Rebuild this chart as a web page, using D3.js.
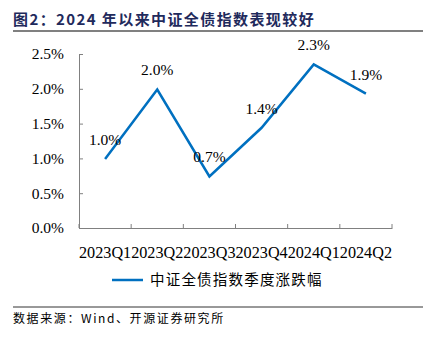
<!DOCTYPE html>
<html><head><meta charset="utf-8">
<script src="https://cdn.jsdelivr.net/npm/d3@7"></script>
<style>body{margin:0;background:#fff}svg{display:block}</style>
</head><body><svg id="c" width="434" height="337"></svg>
<script>
const categories = ["2023Q1","2023Q2","2023Q3","2023Q4","2024Q1","2024Q2"];
const values = [0.99, 1.99, 0.74, 1.44, 2.35, 1.93];
const labels = ["1.0%","2.0%","0.7%","1.4%","2.3%","1.9%"];
const yTicks = [0, 0.5, 1.0, 1.5, 2.0, 2.5];
const seriesName = "中证全债指数季度涨跌幅";
const title = "图2：2024 年以来中证全债指数表现较好";
const source = "数据来源：Wind、开源证券研究所";

const svg = d3.select("#c");
const serif = "'Liberation Serif','Times New Roman',serif";
const cjk = "'Noto Sans CJK SC',sans-serif";
const blue = "#0070C0";
const axisCol = "#808080";

// title
svg.append("text").attr("x",13).attr("y",25).attr("font-family",cjk).attr("font-weight","bold")
  .attr("font-size",15).attr("letter-spacing",1.4).attr("fill","#1F2A5C").text(title);
svg.append("line").attr("x1",13).attr("x2",423).attr("y1",31).attr("y2",31).attr("stroke","#808080").attr("stroke-width",2);

const x = d3.scaleBand().domain(categories).range([79,392]);
const y = d3.scaleLinear().domain([0,2.5]).range([228,54]);

// y axis
const gy = svg.append("g").attr("transform","translate(79,0)")
  .call(d3.axisLeft(y).tickValues(yTicks).tickSize(-4).tickPadding(15).tickFormat(d=>d.toFixed(1)+"%"));
gy.select(".domain").attr("stroke",axisCol);
gy.selectAll(".tick line").attr("stroke",axisCol);
gy.selectAll("text").attr("font-family",serif).attr("font-size",15.5).attr("fill","#000");

// x axis
const gx = svg.append("g").attr("transform","translate(0,228)")
  .call(d3.axisBottom(x).tickSize(0).tickPadding(18));
gx.select(".domain").attr("stroke",axisCol);
gx.selectAll("text").attr("font-family",serif).attr("font-size",16.2).attr("fill","#000");
const bounds = categories.map(c=>x(c)).concat([x.range()[1]]);
gx.selectAll(".bt").data(bounds).enter().append("line").attr("class","bt")
  .attr("x1",d=>d).attr("x2",d=>d).attr("y1",0).attr("y2",-4).attr("stroke",axisCol);

// line
const cx = c => x(c) + x.bandwidth()/2;
const line = d3.line().x((d,i)=>cx(categories[i])).y(d=>y(d));
svg.append("path").datum(values).attr("d",line).attr("fill","none").attr("stroke",blue).attr("stroke-width",2.5);

// data labels
svg.selectAll(".dl").data(values).enter().append("text").attr("class","dl")
  .attr("x",(d,i)=>cx(categories[i])).attr("y",d=>y(d)-14).attr("text-anchor","middle")
  .attr("font-family",serif).attr("font-size",15.5).attr("fill","#000").text((d,i)=>labels[i]);

// legend
svg.append("line").attr("x1",112).attr("x2",143).attr("y1",280).attr("y2",280).attr("stroke",blue).attr("stroke-width",2.5);
svg.append("text").attr("x",150).attr("y",285).attr("font-family",cjk).attr("font-size",14.5).attr("letter-spacing",1.2).attr("fill","#000").text(seriesName);

// footer
svg.append("line").attr("x1",13).attr("x2",423).attr("y1",307).attr("y2",307).attr("stroke","#333").attr("stroke-width",1);
svg.append("text").attr("x",13).attr("y",323).attr("font-family",cjk).attr("font-size",12).attr("letter-spacing",1.6).attr("fill","#000").text(source);
</script></body></html>
